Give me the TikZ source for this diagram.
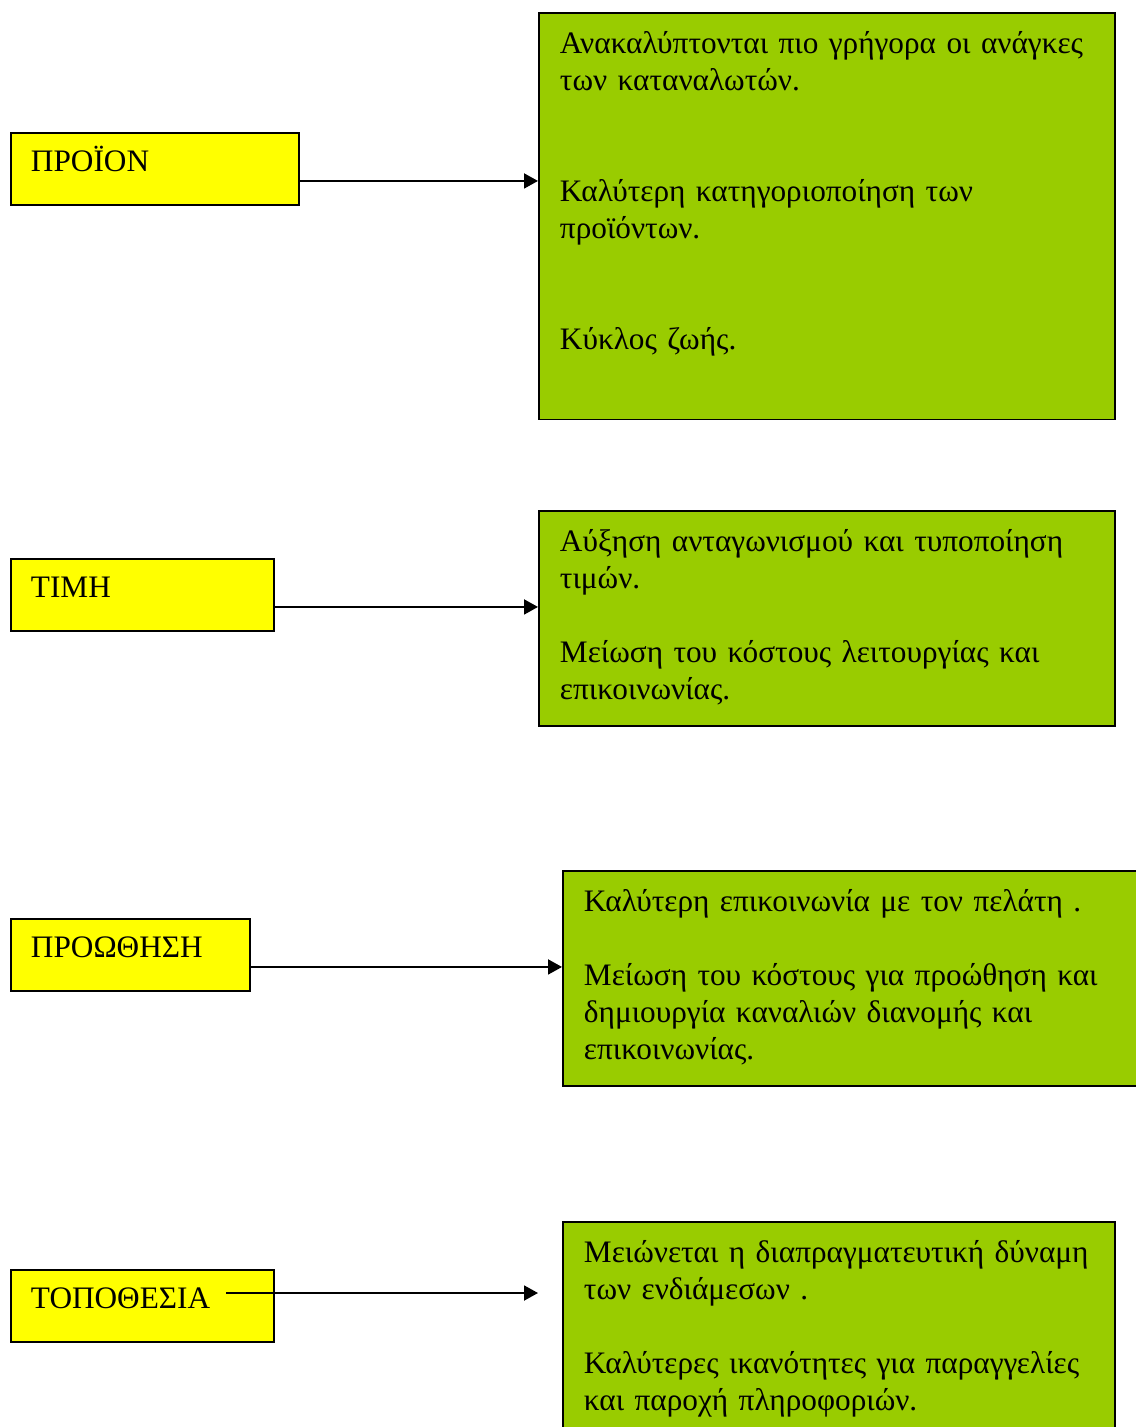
\documentclass[tikz,border=0pt]{standalone}
\usepackage{fontspec}
\setmainfont{Liberation Serif}
\usetikzlibrary{arrows.meta}

\definecolor{lemon}{HTML}{FFFF00}
\definecolor{leaf}{HTML}{99CC00}

\begin{document}
\begin{tikzpicture}[x=0.02cm,y=-0.02cm,
    font=\fontsize{17.8}{21.05}\selectfont,
    every node/.style={draw,line width=1.1pt,anchor=north west,align=left},
    factor/.style={fill=lemon,minimum height=1.44cm,inner xsep=0.4cm,
        text height=0.42cm,text depth=0.3cm},
    effect/.style={fill=leaf,inner xsep=0.42cm,inner ysep=0.3cm},
    link/.style={line width=1.1pt,-{Triangle[length=0.28cm,width=0.3cm]}}]

\useasboundingbox (0,0) rectangle (1136,1427);

% marketing mix
\node[factor,text width=4.96cm] (product) at (10,132) {ΠΡΟΪΟΝ};
\node[factor,text width=4.46cm] (price) at (10,558) {ΤΙΜΗ};
\node[factor,text width=3.98cm] (promo) at (10,918) {ΠΡΟΩΘΗΣΗ};
\node[factor,text width=4.46cm] (place) at (10,1269) {ΤΟΠΟΘΕΣΙΑ};

% effects
\node[effect,text width=10.68cm] (productfx) at (538,12)
    {\strut Ανακαλύπτονται πιο γρήγορα οι ανάγκες\\
     των καταναλωτών.\\[42pt]
     Καλύτερη κατηγοριοποίηση των\\
     προϊόντων.\\[42pt]
     Κύκλος ζωής.\\[4pt]\strut};
\node[effect,text width=10.68cm] (pricefx) at (538,510)
    {\strut Αύξηση ανταγωνισμού και τυποποίηση\\
     τιμών.\\[21pt]
     Μείωση του κόστους λειτουργίας και\\
     επικοινωνίας.\strut};
\node[effect,text width=10.68cm] (promofx) at (562,870)
    {\strut Καλύτερη επικοινωνία με τον πελάτη .\\[21pt]
     Μείωση του κόστους για προώθηση και\\
     δημιουργία καναλιών διανομής και\\
     επικοινωνίας.\strut};
\node[effect,text width=10.2cm] (placefx) at (562,1221)
    {\strut Μειώνεται η διαπραγματευτική δύναμη\\
     των ενδιάμεσων .\\[21pt]
     Καλύτερες ικανότητες για παραγγελίες\\
     και παροχή πληροφοριών.\strut};

\foreach \src in {product,price,promo}{
    \coordinate (\src-out) at ([yshift=-0.24cm]\src.east);
    \draw[link] (\src-out) -- (\src-out -| \src fx.west);
}

\coordinate (place-out) at (226,1293);
\coordinate (place-in) at (538,1293);
\draw[link] (place-out) -- (place-in);

\end{tikzpicture}
\end{document}
